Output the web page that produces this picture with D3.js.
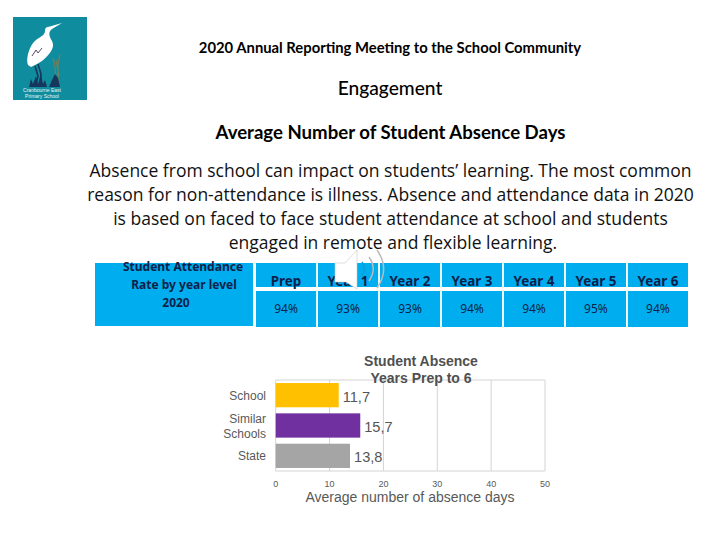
<!DOCTYPE html>
<html><head><meta charset="utf-8">
<script src="https://cdn.jsdelivr.net/npm/d3@7/dist/d3.min.js"></script>
<style>html,body{margin:0;background:#fff;overflow:hidden}svg{display:block}</style>
</head><body><svg id="c" width="720" height="540"></svg>
<script>
const titleLines = ["2020 Annual Reporting Meeting to the School Community","Engagement","Average Number of Student Absence Days"];
const bodyLines = ["Absence from school can impact on students’ learning. The most common","reason for non-attendance is illness. Absence and attendance data in 2020","is based on faced to face student attendance at school and students","engaged in remote and flexible learning."];
const tableTitle = ["Student Attendance","Rate by year level","2020"];
const yearLevels = ["Prep","Year 1","Year 2","Year 3","Year 4","Year 5","Year 6"];
const attendance = ["94%","93%","93%","94%","94%","95%","94%"];
const categories = ["School","Similar Schools","State"];
const absenceDays = [11.7,15.7,13.8];
const barColors = ["#ffc000","#7030a0","#a5a5a5"];
const xTicks = [0,10,20,30,40,50];
const chartTitle = ["Student Absence","Years Prep to 6"];
const xLabel = "Average number of absence days";

const svg = d3.select("#c");
const sans = "Lato, 'Open Sans', sans-serif";
const arial = "'Liberation Sans', Arial, sans-serif";
const tahoma = "'Noto Sans', sans-serif";

// logo
const logo = svg.append("g");
logo.append("rect").attr("x",13).attr("y",17).attr("width",74).attr("height",83).attr("fill","#0f8d9e");
logo.append("path").attr("d","M35 66 L38 76 L36 84 M38 64 L41 74 L40 84").attr("stroke","#17365d").attr("stroke-width",1.6).attr("fill","none");
logo.append("path").attr("d","M48 27 L62 23 L52 29 C48 32 49 36 52 41 C56 48 48 56 42 61 L37 64 L31 67 L28 65 C26 60 28 50 33 43 C38 37 45 36 45 31 C45 28 46 27 48 27 Z").attr("fill","#fff");
logo.append("path").attr("d","M32 56 L36 50 L38 53 L42 48").attr("stroke","#5a4a6a").attr("stroke-width",1).attr("fill","none");
logo.append("path").attr("d","M56 82 L55 66 L53 58 M58 82 L58 64 L60 55 M59 76 L56 60").attr("stroke","#6f7f60").attr("stroke-width",1.3).attr("fill","none");
logo.append("path").attr("d","M29 87 L31 79 L33 84 L36 76 L38 84 L41 74 L43 84 L45 80 L47 87 Z M49 87 L52 80 L55 74 L58 78 L60 87 Z").attr("fill","#17365d");
logo.selectAll("text.l").data(["Cranbourne East","Primary School"]).join("text").attr("class","l")
  .attr("x",42).attr("y",(d,i)=>[92,98][i]).attr("text-anchor","middle").attr("font-family",arial).attr("font-size",5).attr("fill","#e8f4f6").text(d=>d);

// headings
const hs = [[390,52.5,14.8,700],[390,94.5,19.2,500],[390.5,138.5,18.6,700]];
svg.selectAll("text.h").data(titleLines).join("text").attr("class","h")
  .attr("x",(d,i)=>hs[i][0]).attr("y",(d,i)=>hs[i][1]).attr("font-size",(d,i)=>hs[i][2]).attr("font-weight",(d,i)=>hs[i][3])
  .attr("text-anchor","middle").attr("font-family",sans).attr("fill","#000").text(d=>d);
const bodyCx = [390.5,390.5,390.5,393];
svg.selectAll("text.b").data(bodyLines).join("text").attr("class","b")
  .attr("x",(d,i)=>bodyCx[i]).attr("y",(d,i)=>177+i*24).attr("font-size",17.5).attr("text-anchor","middle")
  .attr("font-family","'Open Sans', sans-serif").attr("fill","#111").text(d=>d);

// table
const blue = "#00aeef";
svg.append("rect").attr("x",95).attr("y",263).attr("width",158).attr("height",63).attr("fill",blue);
const ttCx = [183,184,176];
svg.selectAll("text.t").data(tableTitle).join("text").attr("class","t")
  .attr("x",(d,i)=>ttCx[i]).attr("y",(d,i)=>271+i*18).attr("text-anchor","middle").attr("font-size",12).attr("font-weight",700)
  .attr("font-family",tahoma).attr("fill","#0d1f4a").text(d=>d);
const colX = d3.scaleBand().domain(yearLevels).range([256,688]).paddingInner(0.03);
svg.selectAll("rect.hd").data(yearLevels).join("rect").attr("class","hd")
  .attr("x",d=>colX(d)).attr("y",263).attr("width",colX.bandwidth()).attr("height",24).attr("fill",blue);
svg.selectAll("rect.vl").data(yearLevels).join("rect").attr("class","vl")
  .attr("x",d=>colX(d)).attr("y",291).attr("width",colX.bandwidth()).attr("height",36).attr("fill",blue);
svg.selectAll("text.hd").data(yearLevels).join("text").attr("class","hd")
  .attr("x",d=>colX(d)+colX.bandwidth()/2).attr("y",286).attr("text-anchor","middle").attr("font-size",13.4).attr("font-weight",700)
  .attr("font-family",tahoma).attr("fill","#0d1f4a").text(d=>d);
svg.selectAll("text.vl").data(attendance).join("text").attr("class","vl")
  .attr("x",(d,i)=>colX(yearLevels[i])+colX.bandwidth()/2).attr("y",313).attr("text-anchor","middle").attr("font-size",12)
  .attr("font-family",tahoma).attr("fill","#0d1f4a").text(d=>d);

// chart
const x = d3.scaleLinear().domain([0,50]).range([275.7,545]);
const y = d3.scaleBand().domain(categories).range([380,471]).paddingInner(0.2).paddingOuter(0.1);
const g = svg.append("g");
g.selectAll("line.gr").data(xTicks).join("line").attr("class","gr")
  .attr("x1",d=>x(d)).attr("x2",d=>x(d)).attr("y1",380).attr("y2",471).attr("stroke","#d4d4d4");
g.append("line").attr("x1",x(0)).attr("x2",x(50)).attr("y1",471).attr("y2",471).attr("stroke","#d4d4d4");
g.append("line").attr("x1",x(0)).attr("x2",x(50)).attr("y1",380).attr("y2",380).attr("stroke","#d4d4d4");
g.selectAll("rect.bar").data(categories).join("rect").attr("class","bar")
  .attr("x",x(0)).attr("y",d=>y(d)).attr("height",y.bandwidth())
  .attr("width",(d,i)=>x(absenceDays[i])-x(0)).attr("fill",(d,i)=>barColors[i]);
g.selectAll("text.val").data(absenceDays).join("text").attr("class","val")
  .attr("x",d=>x(d)+4).attr("y",(d,i)=>y(categories[i])+y.bandwidth()/2+6.5)
  .attr("font-family",arial).attr("font-size",14.6).attr("fill","#555").text(d=>String(d).replace(".",","));
const catLines = {"School":["School"],"Similar Schools":["Similar","Schools"],"State":["State"]};
categories.forEach(c=>{
  const ls = catLines[c];
  ls.forEach((l,i)=>{
    g.append("text").attr("x",266).attr("y",y(c)+y.bandwidth()/2+4.5+(i-(ls.length-1)/2)*15)
      .attr("text-anchor","end").attr("font-family",arial).attr("font-size",12).attr("fill","#595959").text(l);
  });
});
g.selectAll("text.tk").data(xTicks).join("text").attr("class","tk")
  .attr("x",d=>x(d)).attr("y",486.5).attr("text-anchor","middle").attr("font-family",arial).attr("font-size",9).attr("fill","#595959").text(d=>d);
g.append("text").attr("x",410).attr("y",502).attr("text-anchor","middle").attr("font-family",arial).attr("font-size",14).attr("fill","#595959").text(xLabel);
g.selectAll("text.ct").data(chartTitle).join("text").attr("class","ct")
  .attr("x",421).attr("y",(d,i)=>366+i*17).attr("text-anchor","middle").attr("font-family",arial).attr("font-size",14).attr("font-weight",700).attr("fill","#505050").text(d=>d);

// speaker icon
const sp = svg.append("g");
sp.append("path").attr("d","M335 263 L345 263 L357 250 L357 289 L346 282 L335 282 Z").attr("fill","#fff").attr("stroke","#c8c8c8").attr("stroke-width",0.6);
sp.selectAll("path.a").data([[362,7,"#0b9fd6"],[369,12,"#bbb"],[377,19,"#bbb"]]).join("path").attr("class","a")
  .attr("d",d=>`M${d[0]} ${269-d[1]} Q${d[0]+d[1]*0.7} 269 ${d[0]} ${269+d[1]}`).attr("fill","none").attr("stroke",d=>d[2]).attr("stroke-width",1.5);
</script></body></html>
